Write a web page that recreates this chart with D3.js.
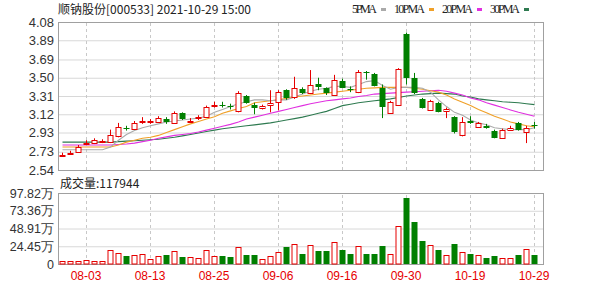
<!DOCTYPE html>
<html>
<head>
<meta charset="utf-8">
<script src="https://cdn.jsdelivr.net/npm/d3@7"></script>
<style>
  body { margin: 0; background: #fff; }
  svg { display: block; }
</style>
</head>
<body>
<div id="wrapper"></div>
<script>
// data
const dates = ["07-29","07-30","08-02","08-03","08-04","08-05","08-06","08-09","08-10","08-11",
  "08-12","08-13","08-16","08-17","08-18","08-19","08-20","08-23","08-24","08-25",
  "08-26","08-27","08-30","08-31","09-01","09-02","09-03","09-06","09-07","09-08",
  "09-09","09-10","09-13","09-14","09-15","09-16","09-17","09-22","09-23","09-24",
  "09-27","09-28","09-29","09-30","10-08","10-11","10-12","10-13","10-14","10-15",
  "10-18","10-19","10-20","10-21","10-22","10-25","10-26","10-27","10-28","10-29"]

const open = [2.69,2.71,2.73,2.82,2.82,2.84,2.83,2.90,2.975,2.97,
  3.05,3.04,3.04,3.07,3.03,3.13,3.05,3.08,3.10,3.21,
  3.215,3.205,3.15,3.31,3.22,3.19,3.22,3.25,3.37,3.30,
  3.38,3.34,3.44,3.39,3.32,3.47,3.385,3.35,3.56,3.54,
  3.39,3.14,3.22,3.96,3.50,3.28,3.17,3.24,3.15,3.09,
  2.90,3.05,2.99,3.00,2.95,2.88,2.96,3.03,2.94,3.01]
const high = [2.72,2.74,2.80,2.85,2.87,2.86,2.96,3.03,3.00,3.05,
  3.09,3.07,3.10,3.09,3.15,3.14,3.08,3.11,3.21,3.25,
  3.25,3.23,3.36,3.32,3.24,3.22,3.37,3.37,3.38,3.51,
  3.40,3.58,3.50,3.40,3.53,3.49,3.41,3.58,3.57,3.55,
  3.43,3.26,3.60,3.97,3.55,3.29,3.27,3.25,3.19,3.10,
  3.09,3.10,3.04,3.02,2.96,2.97,3.00,3.04,3.00,3.04]
const low = [2.68,2.70,2.72,2.80,2.81,2.82,2.82,2.88,2.95,2.96,
  3.02,3.02,3.03,3.02,3.02,3.06,3.03,3.06,3.09,3.19,
  3.19,3.17,3.14,3.23,3.12,3.17,3.14,3.16,3.27,3.28,
  3.33,3.33,3.37,3.32,3.31,3.39,3.35,3.34,3.48,3.41,
  3.08,3.13,3.21,3.43,3.33,3.18,3.16,3.14,3.08,2.92,
  2.89,3.02,2.98,2.97,2.87,2.87,2.95,2.95,2.82,2.97]
const close = [2.70,2.72,2.78,2.825,2.85,2.845,2.90,2.99,2.97,3.03,
  3.055,3.045,3.08,3.04,3.13,3.07,3.055,3.09,3.20,3.22,
  3.21,3.20,3.34,3.24,3.19,3.21,3.24,3.35,3.29,3.39,
  3.34,3.42,3.41,3.34,3.48,3.40,3.38,3.56,3.555,3.42,
  3.19,3.25,3.59,3.50,3.34,3.19,3.26,3.15,3.17,2.93,
  3.04,3.03,3.03,2.98,2.88,2.96,2.98,2.96,2.98,3.00]

// volume in 万手
const volume = [3.7,3.7,3.7,5.0,3.7,3.7,19.7,15.1,10.5,11.9,
  13.7,6.9,10.5,11.9,17.4,9.2,9.2,8.2,18.8,10.5,
  10.5,9.2,23.3,12.8,12.8,7.3,11.4,16.0,23.6,27.0,
  13.5,26.5,18.3,18.3,30.2,19.7,14.2,25.2,14.2,14.2,
  24.2,14.2,52.6,90.6,58.5,31.1,26.5,19.7,12.3,27.9,
  16.9,14.2,12.3,8.2,11.4,8.2,8.2,12.8,21.0,11.79]

const ma5 = [2.75,2.75,2.75,2.75,2.75,2.75,2.78,2.85,2.91,2.95,
  2.98,3.00,3.02,3.04,3.05,3.06,3.07,3.08,3.10,3.14,
  3.17,3.20,3.23,3.25,3.27,3.27,3.26,3.27,3.27,3.30,
  3.33,3.36,3.38,3.39,3.41,3.41,3.40,3.43,3.46,3.47,
  3.42,3.38,3.40,3.40,3.40,3.39,3.35,3.27,3.20,3.14,
  3.11,3.06,3.03,3.01,2.98,2.97,2.96,2.96,2.96,2.98]
const ma10 = [2.78,2.78,2.78,2.78,2.78,2.78,2.78,2.80,2.83,2.85,
  2.87,2.88,2.90,2.93,2.96,2.99,3.02,3.045,3.07,3.095,
  3.13,3.155,3.18,3.20,3.24,3.25,3.26,3.27,3.285,3.30,
  3.31,3.32,3.33,3.34,3.35,3.36,3.37,3.38,3.39,3.395,
  3.40,3.40,3.40,3.40,3.39,3.38,3.365,3.35,3.32,3.28,
  3.245,3.21,3.17,3.135,3.10,3.07,3.04,3.02,3.00,2.99]
const ma20 = [2.80,2.80,2.80,2.80,2.80,2.80,2.80,2.805,2.81,2.82,
  2.835,2.85,2.87,2.885,2.90,2.91,2.92,2.935,2.955,2.975,
  2.995,3.015,3.04,3.07,3.09,3.11,3.13,3.15,3.17,3.19,
  3.21,3.23,3.245,3.26,3.27,3.28,3.29,3.305,3.315,3.33,
  3.335,3.34,3.345,3.35,3.355,3.36,3.365,3.37,3.36,3.34,
  3.32,3.29,3.27,3.24,3.215,3.19,3.165,3.14,3.12,3.10]
const ma30 = [2.83,2.83,2.83,2.83,2.83,2.83,2.83,2.835,2.84,2.845,
  2.85,2.855,2.86,2.87,2.88,2.895,2.91,2.925,2.94,2.955,
  2.97,2.98,2.99,3.00,3.01,3.02,3.03,3.045,3.06,3.075,
  3.09,3.11,3.13,3.15,3.18,3.21,3.225,3.24,3.25,3.26,
  3.27,3.28,3.295,3.31,3.32,3.33,3.335,3.34,3.335,3.33,
  3.31,3.30,3.28,3.27,3.26,3.25,3.245,3.24,3.23,3.22]

const priceTicks = [4.08,3.89,3.69,3.50,3.31,3.12,2.93,2.73,2.54]
const volTicks = [97.82,73.36,48.91,24.45,0]
const volTickLabels = ["97.82万","73.36万","48.91万","24.45万","0"]
const dateTicks = ["08-03","08-13","08-25","09-06","09-16","09-30","10-19","10-29"]

const maSeries = [
  {name: "5PMA", values: ma5, color: "#aaaaaa", tw: 25},
  {name: "10PMA", values: ma10, color: "#f0a028", tw: 31},
  {name: "20PMA", values: ma20, color: "#e030e0", tw: 31},
  {name: "30PMA", values: ma30, color: "#2e7a50", tw: 30},
]

const RED = "#e60000"
const GREEN = "#007f00"

// dimensions
const dims = {
  width: 600, height: 286,
  left: 58, right: 543,
  priceTop: 22, priceBottom: 170,
  volTop: 193, volBottom: 264,
}

const svg = d3.select("#wrapper").append("svg")
  .attr("width", dims.width)
  .attr("height", dims.height)
  .style("font-family", "'Liberation Sans', Arial, sans-serif")

// scales
const xScale = d3.scaleBand()
  .domain(dates)
  .range([dims.left, dims.left + 480])
  .paddingInner(0.3)
  .paddingOuter(0.15)
const cx = d => Math.round(xScale(d) + xScale.bandwidth() / 2)

const yScale = d3.scaleLinear()
  .domain([2.54, 4.08])
  .range([dims.priceBottom, dims.priceTop])

const vScale = d3.scaleLinear()
  .domain([0, 97.82])
  .range([dims.volBottom, dims.volTop])

const plotW = dims.right - dims.left

// price grid + labels
const yAxis = svg.append("g")
  .attr("transform", `translate(${dims.left},0)`)
  .call(d3.axisLeft(yScale).tickValues(priceTicks)
    .tickFormat(d3.format(".2f")).tickSize(-plotW).tickPadding(4))
yAxis.select(".domain").remove()
yAxis.selectAll("line").attr("stroke", "#d8d8d8")
yAxis.selectAll("text").attr("fill", "#333").style("font-size", "13px")

const vAxis = svg.append("g")
  .attr("transform", `translate(${dims.left},0)`)
  .call(d3.axisLeft(vScale).tickValues(volTicks)
    .tickFormat((d, i) => volTickLabels[i]).tickSize(-plotW).tickPadding(4))
vAxis.select(".domain").remove()
vAxis.selectAll("line").attr("stroke", "#d8d8d8")
vAxis.selectAll("text").attr("fill", "#333").style("font-size", "12.5px")

// vertical dashed grid, price panel
const xGridTop = svg.append("g")
  .attr("transform", `translate(0,${dims.priceBottom})`)
  .call(d3.axisBottom(xScale).tickValues(dateTicks)
    .tickSize(-(dims.priceBottom - dims.priceTop)).tickFormat(""))
xGridTop.select(".domain").remove()
xGridTop.selectAll("line").attr("stroke", "#c8c8c8").attr("stroke-dasharray", "3,3")
  .attr("transform", "translate(0.5,0)")

// x axis, volume panel
const xAxis = svg.append("g")
  .attr("transform", `translate(0,${dims.volBottom})`)
  .call(d3.axisBottom(xScale).tickValues(dateTicks)
    .tickSize(-(dims.volBottom - dims.volTop)).tickPadding(7))
xAxis.select(".domain").remove()
xAxis.selectAll("line").attr("stroke", "#c8c8c8").attr("stroke-dasharray", "3,3")
  .attr("transform", "translate(0.5,0)")
xAxis.selectAll("text").attr("fill", RED).style("font-size", "12px")

// frames
svg.append("rect")
  .attr("x", dims.left + 0.5).attr("y", dims.priceTop + 0.5)
  .attr("width", plotW).attr("height", dims.priceBottom - dims.priceTop)
  .attr("fill", "none").attr("stroke", "#a0a0a0")
svg.append("rect")
  .attr("x", dims.left + 0.5).attr("y", dims.volTop + 0.5)
  .attr("width", plotW).attr("height", dims.volBottom - dims.volTop)
  .attr("fill", "none").attr("stroke", "#a0a0a0")

// MA lines
const lineGen = values => d3.line()
  .x((d, i) => cx(dates[i]) + 0.5)
  .y(d => yScale(d))(values)

svg.append("g").selectAll("path")
  .data(maSeries.slice().reverse())
  .join("path")
    .attr("d", d => lineGen(d.values))
    .attr("fill", "none")
    .attr("stroke", d => d.color)
    .attr("stroke-width", 1.1)

// candles
const candles = dates.map((d, i) => ({
  date: d, o: open[i], h: high[i], l: low[i], c: close[i], v: volume[i],
  up: close[i] >= open[i],
}))

const cg = svg.append("g").selectAll("g")
  .data(candles)
  .join("g")

cg.append("line")
  .attr("x1", d => cx(d.date) + 0.5).attr("x2", d => cx(d.date) + 0.5)
  .attr("y1", d => yScale(d.h)).attr("y2", d => yScale(d.l))
  .attr("stroke", d => d.up ? RED : GREEN)

cg.append("rect")
  .attr("x", d => d.up ? cx(d.date) - 2 : cx(d.date) - 2.5)
  .attr("y", d => Math.round(yScale(Math.max(d.o, d.c))) + (d.up ? 0.5 : 0))
  .attr("width", d => d.up ? 5 : 6)
  .attr("height", d => Math.max(1, Math.round(Math.abs(yScale(d.o) - yScale(d.c)))))
  .attr("fill", d => d.up ? "#fff" : GREEN)
  .attr("stroke", d => d.up ? RED : "none")

// volume bars
svg.append("g").selectAll("rect")
  .data(candles)
  .join("rect")
    .attr("x", d => d.up ? cx(d.date) - 2 : cx(d.date) - 2.5)
    .attr("y", d => Math.round(vScale(d.v)) + (d.up ? 0.5 : 0))
    .attr("width", d => d.up ? 5 : 6)
    .attr("height", d => dims.volBottom - Math.round(vScale(d.v)) - (d.up ? 0.5 : 0))
    .attr("fill", d => d.up ? "#fff" : GREEN)
    .attr("stroke", d => d.up ? RED : "none")

// title
svg.append("text")
  .attr("x", dims.left).attr("y", 14)
  .attr("fill", "#222")
  .style("font-family", "'Noto Sans CJK SC', sans-serif")
  .style("font-size", "12px")
  .text("顺钠股份[000533] 2021-10-29 15:00")

// legend
const legendX = [352, 394, 442, 490]
const legend = svg.append("g").selectAll("g")
  .data(maSeries)
  .join("g")
    .attr("transform", (d, i) => `translate(${legendX[i]},0)`)
legend.append("text")
  .attr("y", 13)
  .attr("textLength", d => d.tw)
  .attr("fill", "#222")
  .style("font-family", "'Liberation Serif', serif")
  .style("font-size", "12px")
  .text(d => d.name)
legend.append("rect")
  .attr("x", d => d.tw + 4).attr("y", 8)
  .attr("width", 5).attr("height", 3)
  .attr("fill", d => d.color)

// volume caption
svg.append("text")
  .attr("x", 60).attr("y", 188)
  .attr("fill", "#222")
  .style("font-family", "'Noto Sans CJK SC', sans-serif")
  .style("font-size", "12px")
  .text("成交量:117944")
</script>
</body>
</html>
